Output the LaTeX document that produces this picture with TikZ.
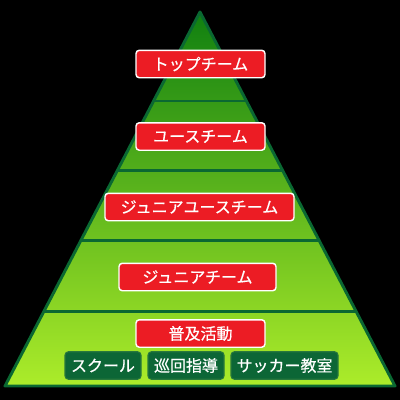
\documentclass[tikz,border=0pt]{standalone}
\usepackage{fontspec}
\setmainfont{Noto Sans CJK JP}[FakeBold=0.6]
\usetikzlibrary{calc}
\definecolor{edgegreen}{RGB}{10,104,50}
\definecolor{topgreen}{RGB}{16,128,16}
\definecolor{basegreen}{RGB}{172,236,42}
\definecolor{tagred}{RGB}{236,28,36}
\definecolor{tabgreen}{RGB}{12,102,54}
\definecolor{tabedge}{RGB}{40,120,60}
\tikzset{
  teambox/.style={draw=white,fill=tagred,line width=1.1pt,rounded corners=2.5pt,text=white,
    font=\fontsize{12}{14}\selectfont,inner sep=0pt,minimum height=20.6pt},
  eventbox/.style={draw=tabedge,fill=tabgreen,line width=0.8pt,rounded corners=2.5pt,text=white,
    font=\fontsize{12}{14}\selectfont,inner sep=0pt,minimum height=20.6pt,minimum width=57pt},
  tier/.style={draw=edgegreen,line width=2.2pt}
}
\begin{document}
\begin{tikzpicture}[x=0.75pt,y=0.75pt,yscale=-1,xscale=1]
\fill[black] (0,0) rectangle (400,400);
\useasboundingbox (0,0) rectangle (400,400);

%Pyramid
\coordinate (apex) at (200,12);
\coordinate (bl) at (5,386);
\coordinate (br) at (395,386);
\shade[top color=topgreen,bottom color=basegreen] (apex) -- (br) -- (bl) -- cycle;
%Tier lines
\foreach \t in {0.238,0.425,0.612,0.802}
  \draw[tier] ($(apex)!\t!(bl)$) -- ($(apex)!\t!(br)$);
\draw[tier,line join=round] (apex) -- (br) -- (bl) -- cycle;

% Text Node
\node[teambox,minimum width=96.75pt] (top) at (200.5,64) {トップチーム};
% Text Node
\node[teambox,minimum width=96.75pt] (youth) at (200.5,136.5) {ユースチーム};
% Text Node
\node[teambox,minimum width=141.75pt] (junioryouth) at (199.5,207) {ジュニアユースチーム};
% Text Node
\node[teambox,minimum width=117.75pt] (junior) at (197.5,277) {ジュニアチーム};
% Text Node
\node[teambox,minimum width=96.75pt] (fukyu) at (200.5,333.5) {普及活動};
% Text Node
\node[eventbox] (school) at (103,365.5) {スクール};
% Text Node
\node[eventbox] (junkai) at (186,365.5) {巡回指導};
% Text Node
\node[eventbox,minimum width=80.25pt] (kyoshitsu) at (284.5,365.5) {サッカー教室};
\end{tikzpicture}
\end{document}
